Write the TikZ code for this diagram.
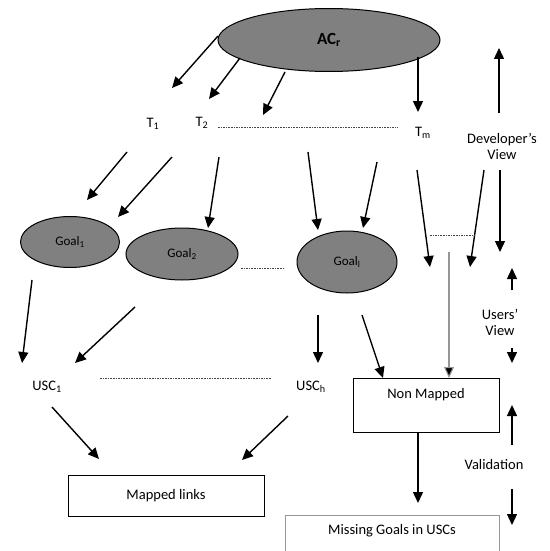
\documentclass[tikz,border=0pt]{standalone}
\usepackage{fontspec}
\setmainfont{Carlito}
\usetikzlibrary{shapes.geometric,arrows.meta}
\definecolor{goalgray}{RGB}{128,128,128}
\definecolor{linegray}{RGB}{150,150,150}
\definecolor{dotgray}{RGB}{70,70,70}
\newcommand{\sub}[1]{\textsubscript{#1}}
\tikzset{
  arr/.style={line width=1.4pt,-{Triangle[length=11pt,width=10pt]}},
  grayarr/.style={arr,draw=linegray,line width=1.1pt,-{Triangle[length=11pt,width=10pt,fill=black]}},
  dots/.style={draw=dotgray,line width=1pt,dash pattern=on 1.6pt off 1pt},
  goal/.style={ellipse,draw=black,line width=1pt,fill=goalgray,inner sep=0pt,font=\fontsize{13}{15}\selectfont},
  lbl/.style={inner sep=0pt,font=\fontsize{14.5}{17}\selectfont},
  box/.style={rectangle,draw=black,line width=1pt,inner sep=0pt,font=\fontsize{14.5}{17}\selectfont},
}
\begin{document}
\begin{tikzpicture}[x=1pt,y=-1pt]
\useasboundingbox (0,0) rectangle (549,551);
\clip (0,0) rectangle (549,551);

% top concept
\node[goal,minimum width=222pt,minimum height=63pt,font=\fontsize{17}{19}\selectfont\bfseries] (ac) at (329,40) {AC\sub{r}};

% task labels
\node[lbl] (t1) at (153,124) {T\sub{1}};
\node[lbl] (t2) at (202,123) {T\sub{2}};
\node[lbl] (tm) at (423,133) {T\sub{m}};

% goals
\node[goal,minimum width=99pt,minimum height=51pt] (g1) at (70,242) {Goal\sub{1}};
\node[goal,minimum width=112pt,minimum height=52pt] (g2) at (182,254) {Goal\sub{2}};
\node[goal,minimum width=100pt,minimum height=62pt] (gl) at (347,262) {Goal\sub{l}};

% use cases
\node[lbl] (usc1) at (47,387) {USC\sub{1}};
\node[lbl] (usch) at (311,387) {USC\sub{h}};

% result boxes
\node[box,minimum width=196pt,minimum height=41pt] (mapped) at (166,495.5) {Mapped links};
\node[box,minimum width=146pt,minimum height=54pt,text height=11pt,text depth=25pt] (nonmapped) at (426,405) {Non Mapped};
\node[box,draw=linegray,minimum width=214pt,minimum height=50pt,text height=11pt,text depth=22pt] (missing) at (392,540) {Missing Goals in USCs};

% view labels
\node[lbl,align=center] (dev) at (502,146) {Developer's\\[-1pt]View};
\node[lbl,align=center] (users) at (500,322) {Users'\\[-1pt]View};
\node[lbl] (valid) at (494,465) {Validation};

% connector end points
\coordinate (ac1) at (218,36);   \coordinate (ac1e) at (172,88);
\coordinate (ac2) at (240,58);   \coordinate (ac2e) at (209,99);
\coordinate (ac3) at (285,72);   \coordinate (ac3e) at (263,115);
\coordinate (ac4) at (418,57);   \coordinate (ac4e) at (418,112);
\coordinate (ta) at (127,152);   \coordinate (tae) at (87,200);
\coordinate (tb) at (172,157);   \coordinate (tbe) at (118,217);
\coordinate (tc) at (219,157);   \coordinate (tce) at (208,228);
\coordinate (td) at (308,152);   \coordinate (tde) at (318,230);
\coordinate (te) at (377,162);   \coordinate (tee) at (363,228);
\coordinate (tf) at (417,170);   \coordinate (tfe) at (430,267);
\coordinate (tg) at (484,170);   \coordinate (tge) at (470,267);
\coordinate (gr) at (449,252);   \coordinate (gre) at (449,378);
\coordinate (ga) at (32,280);    \coordinate (gae) at (22,363);
\coordinate (gb) at (135,307);   \coordinate (gbe) at (75,363);
\coordinate (gc) at (318,315);   \coordinate (gce) at (318,363);
\coordinate (gd) at (362,315);   \coordinate (gde) at (383,378);
\coordinate (ua) at (52,407);    \coordinate (uae) at (99,459);
\coordinate (ub) at (288,416);   \coordinate (ube) at (242,460);
\coordinate (nm) at (418,432);   \coordinate (nme) at (418,503);
\coordinate (dvu) at (499,113);  \coordinate (dvue) at (499,48);
\coordinate (dvd) at (500,170);  \coordinate (dvde) at (500,252);
\coordinate (usu) at (512,290);  \coordinate (usue) at (512,268);
\coordinate (usd) at (512,348);  \coordinate (usde) at (512,363);
\coordinate (vau) at (512,445);  \coordinate (vaue) at (512,405);
\coordinate (vad) at (512,489);  \coordinate (vade) at (512,525);
\coordinate (d1) at (218,127);   \coordinate (d1e) at (398,127);
\coordinate (d2) at (241,268);   \coordinate (d2e) at (284,268);
\coordinate (d3) at (430,235);   \coordinate (d3e) at (475,235);
\coordinate (d4) at (100,378);   \coordinate (d4e) at (271,378);

% arrows from the concept to its tasks
\draw[arr] (ac1) -- (ac1e);
\draw[arr] (ac2) -- (ac2e);
\draw[arr] (ac3) -- (ac3e);
\draw[arr] (ac4) -- (ac4e);

% tasks to goals
\draw[arr] (ta) -- (tae);
\draw[arr] (tb) -- (tbe);
\draw[arr] (tc) -- (tce);
\draw[arr] (td) -- (tde);
\draw[arr] (te) -- (tee);
\draw[arr] (tf) -- (tfe);
\draw[arr] (tg) -- (tge);
\draw[grayarr] (gr) -- (gre);

% goals to use cases
\draw[arr] (ga) -- (gae);
\draw[arr] (gb) -- (gbe);
\draw[arr] (gc) -- (gce);
\draw[arr] (gd) -- (gde);

% use cases to mapped links
\draw[arr] (ua) -- (uae);
\draw[arr] (ub) -- (ube);
\draw[arr] (nm) -- (nme);

% view arrows
\draw[arr] (dvu) -- (dvue);
\draw[arr] (dvd) -- (dvde);
\draw[arr] (usu) -- (usue);
\draw[arr] (usd) -- (usde);
\draw[arr] (vau) -- (vaue);
\draw[arr] (vad) -- (vade);

% dotted continuation lines
\draw[dots] (d1) -- (d1e);
\draw[dots] (d2) -- (d2e);
\draw[dots] (d3) -- (d3e);
\draw[dots] (d4) -- (d4e);
\end{tikzpicture}
\end{document}
